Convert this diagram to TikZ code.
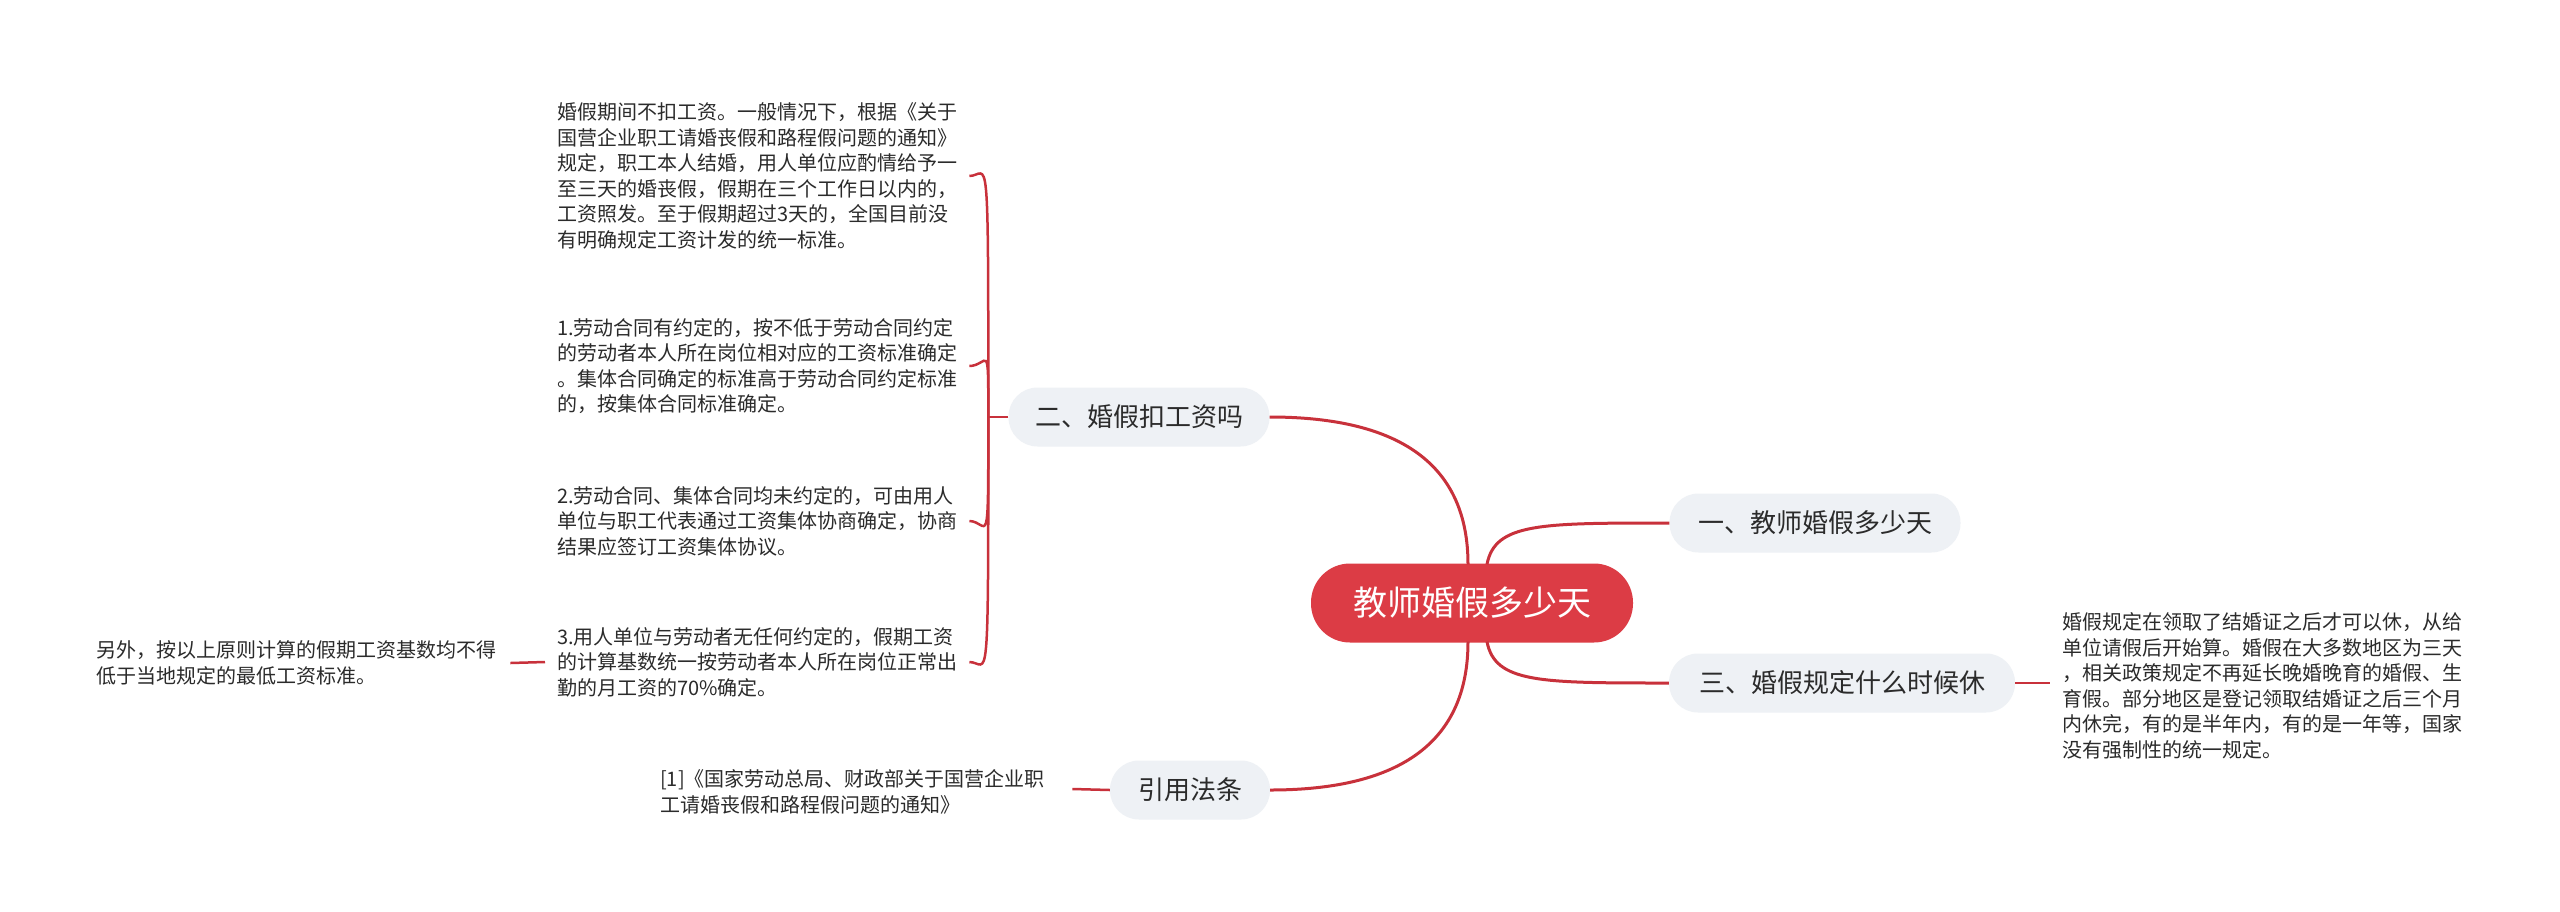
\documentclass[tikz,border=0pt]{standalone}
\usepackage{fontspec}
\setmainfont{Noto Sans CJK SC}
\usetikzlibrary{calc}
\definecolor{lineRed}{HTML}{C8313B}
\definecolor{rootRed}{HTML}{DC3C45}
\definecolor{boxGray}{HTML}{EEF1F5}
\definecolor{txtDark}{HTML}{2B2B2B}
\begin{document}
\begin{tikzpicture}[x=1pt,y=-1pt,
  rootbox/.style={fill=rootRed, draw=none, rounded corners=39pt, minimum height=79pt, minimum width=322pt, inner sep=0pt, text=white, font=\fontsize{34}{40}\selectfont},
  subbox/.style={fill=boxGray, draw=none, rounded corners=29pt, minimum height=59pt, inner sep=0pt, text=txtDark, font=\fontsize{26}{30}\selectfont},
  leaftext/.style={anchor=west, inner sep=0pt, align=left, text=txtDark, font=\fontsize{20}{25.5}\selectfont},
  mainconn/.style={draw=lineRed, line width=3pt},
  subconn/.style={draw=lineRed, line width=2.5pt}
]
\useasboundingbox (0,0) rectangle (2560,911);
\fill[white] (0,0) rectangle (2560,911);

% main nodes
\node[rootbox] (root) at (1472,603) {教师婚假多少天};
\node[subbox, minimum width=261pt] (n2) at (1139,417) {二、婚假扣工资吗};
\node[subbox, minimum width=291pt] (n1) at (1815,523) {一、教师婚假多少天};
\node[subbox, minimum width=346pt] (n3) at (1842,683) {三、婚假规定什么时候休};
\node[subbox, minimum width=160pt] (n4) at (1190,790) {引用法条};

% leaf texts
\node[leaftext, text width=402pt] (t1) at (557,176) {婚假期间不扣工资。一般情况下，根据《关于\\国营企业职工请婚丧假和路程假问题的通知》\\规定，职工本人结婚，用人单位应酌情给予一\\至三天的婚丧假，假期在三个工作日以内的，\\工资照发。至于假期超过3天的，全国目前没\\有明确规定工资计发的统一标准。};
\node[leaftext, text width=402pt] (t2) at (557,366) {1.劳动合同有约定的，按不低于劳动合同约定\\的劳动者本人所在岗位相对应的工资标准确定\\。集体合同确定的标准高于劳动合同约定标准\\的，按集体合同标准确定。};
\node[leaftext, text width=402pt] (t3) at (557,521) {2.劳动合同、集体合同均未约定的，可由用人\\单位与职工代表通过工资集体协商确定，协商\\结果应签订工资集体协议。};
\node[leaftext, text width=402pt] (t4) at (557,662) {3.用人单位与劳动者无任何约定的，假期工资\\的计算基数统一按劳动者本人所在岗位正常出\\勤的月工资的70\%确定。};
\node[leaftext, text width=402pt] (t5) at (96,663) {另外，按以上原则计算的假期工资基数均不得\\低于当地规定的最低工资标准。};
\node[leaftext, text width=390pt] (t6) at (660,792) {[1]《国家劳动总局、财政部关于国营企业职\\工请婚丧假和路程假问题的通知》};
\node[leaftext, text width=402pt] (t7) at (2062,686) {婚假规定在领取了结婚证之后才可以休，从给\\单位请假后开始算。婚假在大多数地区为三天\\，相关政策规定不再延长晚婚晚育的婚假、生\\育假。部分地区是登记领取结婚证之后三个月\\内休完，有的是半年内，有的是一年等，国家\\没有强制性的统一规定。};

% root connectors (quadratic curves written as cubics)
\coordinate (sA) at ($(root.north)+(-4,1)$);
\coordinate (cA) at (sA|-n2.east);
\draw[mainconn] (sA) .. controls ($(sA)!0.667!(cA)$) and ($(n2.east)!0.667!(cA)$) .. (n2.east);
\coordinate (sB) at ($(root.south)+(-4,-1)$);
\coordinate (cB) at (sB|-n4.east);
\draw[mainconn] (sB) .. controls ($(sB)!0.667!(cB)$) and ($(n4.east)!0.667!(cB)$) .. (n4.east);
\draw[mainconn] ($(root.north)+(15,1)$) .. controls ($(root.north|-n1.west)+(23,0)$) and ($(root.north|-n1.west)+(68,0)$) .. (n1.west);
\draw[mainconn] ($(root.south)+(15,-1)$) .. controls ($(root.south|-n3.west)+(23,0)$) and ($(root.south|-n3.west)+(68,0)$) .. (n3.west);

% bracket from n2
\coordinate (br) at ($(n2.west)+(-20,0)$);
\draw[subconn] (n2.west) -- (br);
\foreach \t/\s in {t1/-45,t2/-30,t3/40,t4/45}{
  \draw[subconn] (br) .. controls ($(br|-\t.east)+(0,\s)$) and ($(br|-\t.east)$) .. ($(\t.east)+(10,0)$);
}
% other leaf connectors
\draw[subconn] ($(t4.west)+(-12,0)$) -- ($(t5.east)+(12,0)$);
\draw[subconn] (n4.west) -- ($(t6.east)+(22,-3)$);
\draw[subconn] (n3.east) -- ($(t7.west)+(-12,-3)$);
\end{tikzpicture}
\end{document}
